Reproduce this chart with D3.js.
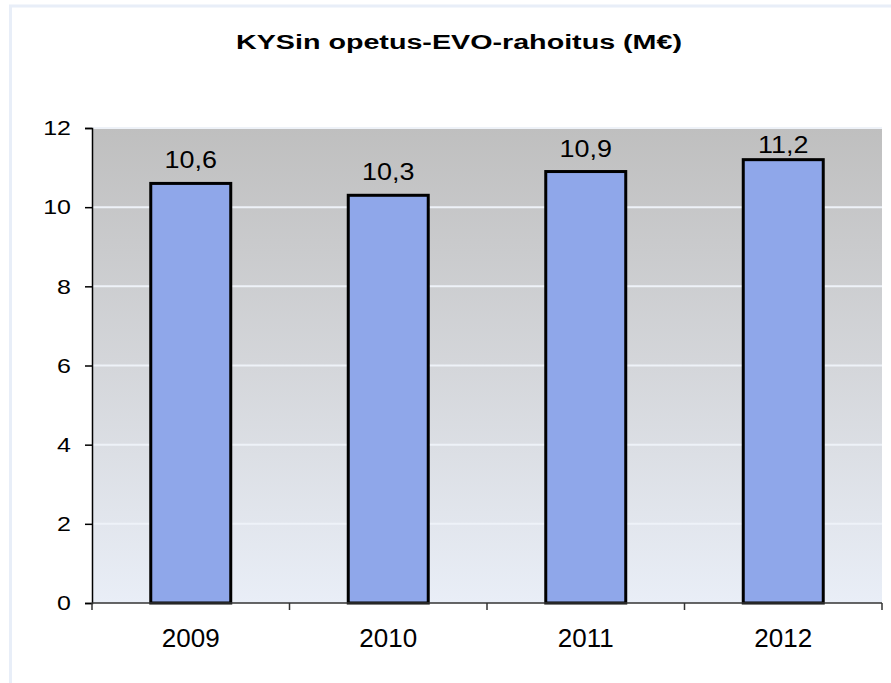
<!DOCTYPE html>
<html>
<head>
<meta charset="utf-8">
<title>KYSin opetus-EVO-rahoitus</title>
<script src="https://d3js.org/d3.v7.min.js"></script>
<style>
    body {
        margin: 0;
        overflow: hidden;
        background: #ffffff;
    }
    text {
        font-family: "Liberation Sans", Arial, sans-serif;
        fill: #000;
    }
</style>
</head>
<body>
<script>
    const years = ["2009", "2010", "2011", "2012"];
    const values = [10.6, 10.3, 10.9, 11.2];
    const yTicks = [0, 2, 4, 6, 8, 10, 12];
    const title = "KYSin opetus-EVO-rahoitus (M€)";

    const width = 891;
    const height = 683;
    const margin = {top: 128, right: 9, bottom: 80, left: 92};

    const svg = d3.select("body")
        .append("svg")
        .attr("width", width)
        .attr("height", height);

    // outer frame
    svg.append("rect")
        .attr("x", 10.5)
        .attr("y", 6)
        .attr("width", width + 20)
        .attr("height", height + 20)
        .attr("fill", "#ffffff")
        .attr("stroke", "#e8eef8")
        .attr("stroke-width", 3);

    const x = d3.scaleBand()
        .domain(years)
        .range([margin.left, width - margin.right])
        .paddingInner(0.595)
        .paddingOuter(0.2975);

    const y = d3.scaleLinear()
        .domain([0, 12])
        .range([height - margin.bottom, margin.top]);

    const defs = svg.append("defs");
    const grad = defs.append("linearGradient")
        .attr("id", "plotbg")
        .attr("x1", 0).attr("y1", 0)
        .attr("x2", 0).attr("y2", 1);
    grad.append("stop").attr("offset", "0%").attr("stop-color", "#bfbfbf");
    grad.append("stop").attr("offset", "50%").attr("stop-color", "#d4d6da");
    grad.append("stop").attr("offset", "100%").attr("stop-color", "#e9eef7");

    svg.append("rect")
        .attr("x", margin.left)
        .attr("y", y(12))
        .attr("width", width - margin.right - margin.left)
        .attr("height", y(0) - y(12))
        .attr("fill", "url(#plotbg)");

    // gridlines
    svg.append("g")
        .selectAll("line")
        .data(yTicks.filter(function(d) { return d > 0; }))
        .join("line")
        .attr("x1", margin.left)
        .attr("x2", width - margin.right)
        .attr("y1", function(d) { return y(d); })
        .attr("y2", function(d) { return y(d); })
        .attr("stroke", "#eef2f8")
        .attr("stroke-width", 2);

    // bars
    svg.append("g")
        .selectAll("rect")
        .data(values)
        .join("rect")
        .attr("x", function(d, i) { return x(years[i]); })
        .attr("y", function(d) { return y(d); })
        .attr("width", x.bandwidth())
        .attr("height", function(d) { return y(0) - y(d); })
        .attr("fill", "#8fa7ea")
        .attr("stroke", "#000")
        .attr("stroke-width", 3);

    // value labels (kept inside the plot area like Excel does)
    svg.append("g")
        .selectAll("text")
        .data(values)
        .join("text")
        .attr("transform", function(d, i) {
            const cx = x(years[i]) + x.bandwidth() / 2;
            const cy = Math.max(y(d) - 15, y(12) + 25);
            return "translate(" + cx + "," + cy + ") scale(1.17,1)";
        })
        .attr("text-anchor", "middle")
        .style("font-size", "23px")
        .text(function(d) { return d3.format(".1f")(d).replace(".", ","); });

    // y axis
    const yAxis = svg.append("g")
        .attr("transform", "translate(" + margin.left + ",0)")
        .call(d3.axisLeft(y).tickValues(yTicks).tickSize(7).tickPadding(14));
    yAxis.select(".domain").attr("stroke", "#000").attr("stroke-width", 1.5);
    yAxis.selectAll(".tick line").attr("stroke", "#000").attr("stroke-width", 1.5);
    yAxis.selectAll(".tick text")
        .attr("x", 0)
        .attr("transform", "translate(-21,0) scale(1.19,1)")
        .style("font-size", "21px")
        .attr("font-family", "Liberation Sans, Arial, sans-serif")
        .attr("fill", "#000");

    // x axis
    const xAxis = svg.append("g")
        .attr("transform", "translate(0," + y(0) + ")");
    xAxis.append("line")
        .attr("x1", margin.left)
        .attr("x2", width - margin.right)
        .attr("stroke", "#333")
        .attr("stroke-width", 1.5);
    const step = x.step();
    xAxis.selectAll("line.tk")
        .data(d3.range(years.length + 1))
        .join("line")
        .attr("class", "tk")
        .attr("x1", function(d) { return margin.left + d * step; })
        .attr("x2", function(d) { return margin.left + d * step; })
        .attr("y1", 0)
        .attr("y2", 7)
        .attr("stroke", "#333")
        .attr("stroke-width", 1.5);
    xAxis.selectAll("text")
        .data(years)
        .join("text")
        .attr("x", function(d) { return x(d) + x.bandwidth() / 2; })
        .attr("y", 44)
        .attr("text-anchor", "middle")
        .style("font-size", "26px")
        .text(function(d) { return d; });

    // title
    svg.append("text")
        .attr("x", 459)
        .attr("y", 48.5)
        .attr("text-anchor", "middle")
        .style("font-size", "20px")
        .attr("font-weight", "bold")
        .attr("textLength", 446)
        .attr("lengthAdjust", "spacingAndGlyphs")
        .text(title);
</script>
</body>
</html>
